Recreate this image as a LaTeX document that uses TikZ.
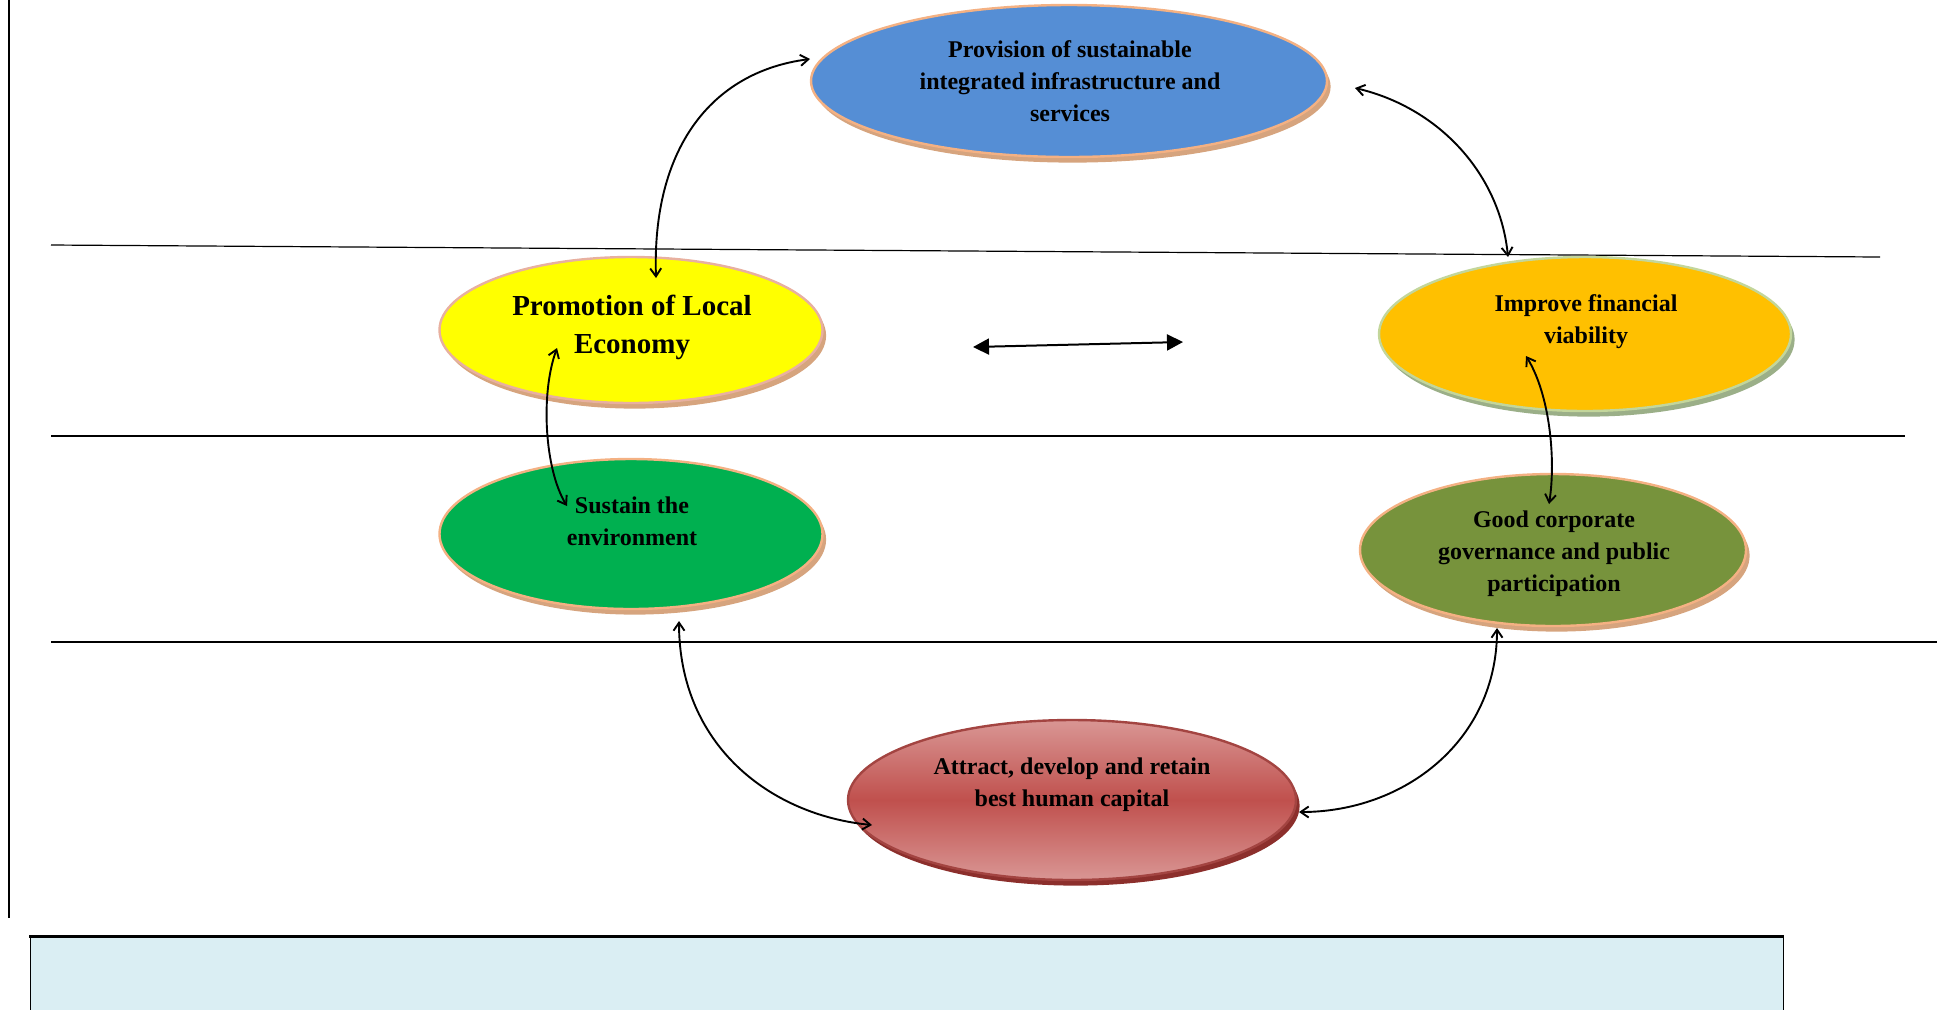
\documentclass[tikz,border=0pt]{standalone}
\usepackage{fontspec}
\setmainfont{Liberation Serif}
\usetikzlibrary{shapes.geometric,arrows.meta,shadows}
\definecolor{cblue}{HTML}{558ED5}
\definecolor{cyel}{HTML}{FFFF00}
\definecolor{corg}{HTML}{FFC000}
\definecolor{cgrn}{HTML}{00B050}
\definecolor{coli}{HTML}{77933C}
\definecolor{credm}{HTML}{C0504D}
\definecolor{credl}{HTML}{D99694}
\definecolor{credd}{HTML}{8C2F2C}
\definecolor{ctanb}{HTML}{F4B183}
\definecolor{ctans}{HTML}{D6A47E}
\definecolor{cpink}{HTML}{E8B0A0}
\definecolor{cgb}{HTML}{C3D69B}
\definecolor{cgs}{HTML}{9BAF88}
\definecolor{cbox}{HTML}{DAEEF3}
\begin{document}
\begin{tikzpicture}[x=0.5pt,y=-0.5pt,
  oval/.style={ellipse, inner sep=0pt, line width=1.2pt},
  shad/.style={general shadow={fill=#1, shadow xshift=1.8pt, shadow yshift=-2.8pt}},
  txt/.style={align=center, font=\bfseries\fontsize{12}{16}\selectfont, inner sep=0pt},
  bigtxt/.style={align=center, font=\bfseries\fontsize{14.5}{19}\selectfont, inner sep=0pt},
  arr/.style={line width=0.95pt, {Straight Barb[length=4pt,width=5.5pt]}-{Straight Barb[length=4pt,width=5.5pt]}},
  rule/.style={line width=1.2pt}]
\useasboundingbox (0,0) rectangle (1937,1009);

% frame lines
\coordinate (vt) at (9,0);
\coordinate (vb) at (9,918);
\draw[line width=1pt] (vt) -- (vb);
\coordinate (l1a) at (51,245);
\coordinate (l1b) at (1880,257);
\draw[line width=0.6pt] (l1a) -- (l1b);
\coordinate (l2a) at (51,436);
\coordinate (l2b) at (1905,436);
\draw[rule] (l2a) -- (l2b);
\coordinate (l3a) at (51,642);
\coordinate (l3b) at (1937,642);
\draw[rule] (l3a) -- (l3b);

% bottom box
\fill[cbox] (30,936) rectangle (1783,1015);
\draw[line width=0.5pt] (30,1015) -- (30,936) (1783,936) -- (1783,1015);
\draw[line width=1.5pt] (29,936) -- (1784,936);

% ellipses
\node[oval, shad=ctans, fill=cblue, draw=ctanb, minimum width=258pt, minimum height=76pt] (blue) at (1069,81) {};
\node[oval, shad=ctans, fill=cyel, draw=cpink, minimum width=191.5pt, minimum height=73pt] (yel) at (631,330) {};
\node[oval, shad=cgs, fill=corg, draw=cgb, minimum width=206pt, minimum height=77pt] (org) at (1585,334) {};
\node[oval, shad=ctans, fill=cgrn, draw=ctanb, minimum width=191.5pt, minimum height=75pt] (grn) at (631,534) {};
\node[oval, shad=ctans, fill=coli, draw=ctanb, minimum width=193pt, minimum height=76pt] (oli) at (1553,550) {};
\node[oval, shad=credd, top color=credl, bottom color=credl, middle color=credm, draw=credm!85!black, minimum width=224pt, minimum height=80pt] (red) at (1072,800) {};

% texts
\node[txt] (tblue) at (1070,81) {Provision of sustainable\\integrated infrastructure and\\services};
\node[bigtxt] (tyel) at (632,327) {Promotion of Local\\Economy};
\node[txt] (torg) at (1586,322) {Improve financial\\viability};
\node[txt] (tgrn) at (632,521) {Sustain the\\environment};
\node[txt] (toli) at (1554,554) {Good corporate\\governance and public\\participation};
\node[txt] (tred) at (1072,785) {Attract, develop and retain\\best human capital};

% connector end points
\coordinate (a1y) at ([shift={(25,-52)}]yel.center);
\coordinate (a1b) at ([shift={(-259,-22)}]blue.center);
\coordinate (a2b) at ([shift={(286,7)}]blue.center);
\coordinate (a2o) at ([shift={(-77,-77)}]org.center);
\coordinate (a4y) at ([shift={(-74,18)}]yel.center);
\coordinate (a4g) at ([shift={(-64,-28)}]grn.center);
\coordinate (a5o) at ([shift={(-59,22)}]org.center);
\coordinate (a5l) at ([shift={(-4,-46)}]oli.center);
\coordinate (a6g) at ([shift={(48,87)}]grn.center);
\coordinate (a6r) at ([shift={(-200,25)}]red.center);
\coordinate (a7l) at ([shift={(-56,78)}]oli.center);
\coordinate (a7r) at ([shift={(227,12)}]red.center);
\coordinate (hl) at (973,347);
\coordinate (hr) at (1183,342);

% connectors
\draw[arr] (a1y) .. controls (652,150) and (710,72) .. (a1b);
\draw[arr] (a2b) .. controls (1440,108) and (1500,175) .. (a2o);
\draw[arr] (a4y) .. controls (540,395) and (545,470) .. (a4g);
\draw[arr] (a5o) .. controls (1550,395) and (1556,460) .. (a5l);
\draw[arr] (a6g) .. controls (679,745) and (770,815) .. (a6r);
\draw[arr] (a7l) .. controls (1497,740) and (1405,812) .. (a7r);
\draw[line width=1pt, {Triangle[length=8pt,width=8pt]}-{Triangle[length=8pt,width=8pt]}] (hl) -- (hr);
\end{tikzpicture}
\end{document}
